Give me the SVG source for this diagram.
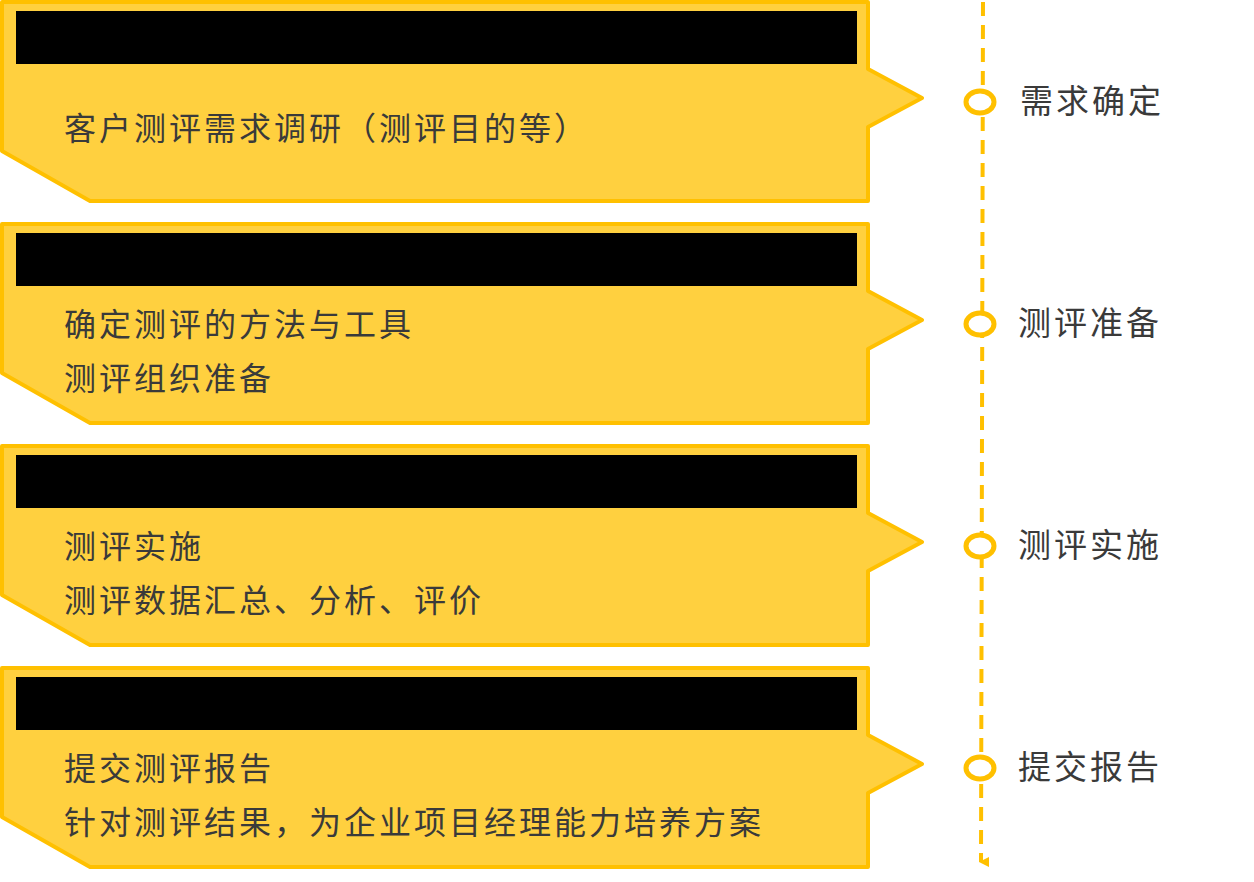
<svg xmlns="http://www.w3.org/2000/svg" width="1254" height="882" viewBox="0 0 1254 882">
<style>
.box{fill:#FFD03F;stroke:#FFC000;stroke-width:4;stroke-linejoin:round}
.bar{fill:#000}
.t{font-family:"Noto Sans CJK SC",sans-serif;font-size:32px;fill:#3a3a3a;letter-spacing:3px}
.l{font-family:"Noto Sans CJK SC",sans-serif;font-size:33px;fill:#3a3a3a;letter-spacing:3px}
.dot{fill:#fff;stroke:#FFC000;stroke-width:5}
</style>
<defs>
<marker id="ah" markerWidth="10" markerHeight="10" refX="5" refY="8" orient="auto" markerUnits="userSpaceOnUse" viewBox="0 0 10 10"><path d="M0,0L10,0L5,10z" fill="#FFC000"/></marker>
<path id="shape" d="M2,2H868V69L922,98L868,127V201H90L2,151Z"/>
</defs>
<g id="connectors">
<line x1="983" y1="2" x2="981" y2="862" stroke="#FFC000" stroke-width="4" stroke-dasharray="14,9" marker-end="url(#ah)"/>
</g>
<g id="n1"><use href="#shape" class="box"/><rect class="bar" x="16" y="11" width="841" height="53"/>
<text class="t" x="64" y="140">客户测评需求调研（测评目的等）</text></g>
<g id="n2" transform="translate(0,222)"><use href="#shape" class="box"/><rect class="bar" x="16" y="11" width="841" height="53"/>
<text class="t" x="64" y="114">确定测评的方法与工具</text><text class="t" x="64" y="168">测评组织准备</text></g>
<g id="n3" transform="translate(0,444)"><use href="#shape" class="box"/><rect class="bar" x="16" y="11" width="841" height="53"/>
<text class="t" x="64" y="114">测评实施</text><text class="t" x="64" y="168">测评数据汇总、分析、评价</text></g>
<g id="n4" transform="translate(0,666)"><use href="#shape" class="box"/><rect class="bar" x="16" y="11" width="841" height="53"/>
<text class="t" x="64" y="114">提交测评报告</text><text class="t" x="64" y="168">针对测评结果，为企业项目经理能力培养方案</text></g>
<g id="m1"><ellipse class="dot" cx="980" cy="102" rx="14" ry="11"/><text class="l" x="1020" y="113">需求确定</text></g>
<g id="m2"><ellipse class="dot" cx="980" cy="324" rx="14" ry="11"/><text class="l" x="1018" y="335">测评准备</text></g>
<g id="m3"><ellipse class="dot" cx="980" cy="546" rx="14" ry="11"/><text class="l" x="1018" y="557">测评实施</text></g>
<g id="m4"><ellipse class="dot" cx="980" cy="768" rx="14" ry="11"/><text class="l" x="1018" y="779">提交报告</text></g>
</svg>
